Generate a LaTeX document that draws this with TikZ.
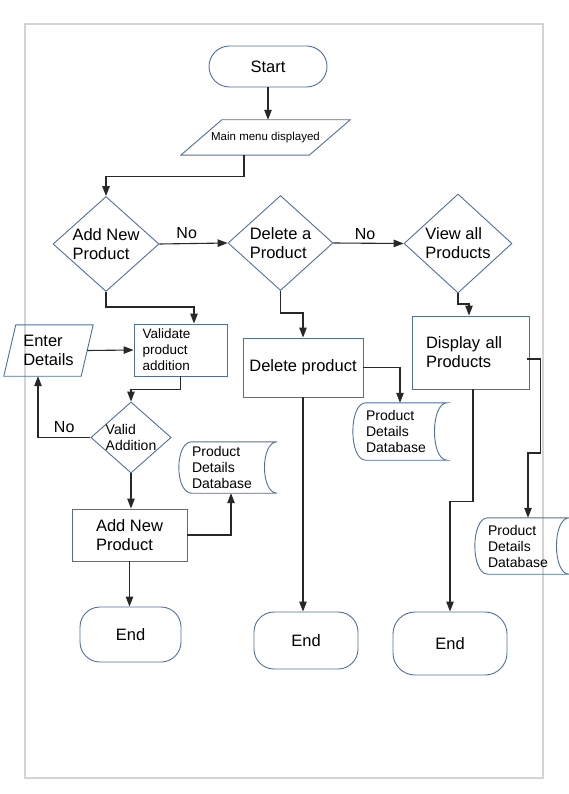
\documentclass[tikz,border=0pt]{standalone}
\usepackage{fontspec}
\setmainfont{Liberation Sans}
\usetikzlibrary{shapes.geometric,arrows.meta}
\definecolor{shpcol}{RGB}{80,110,160}
\definecolor{lncol}{RGB}{40,40,40}
\definecolor{frcol}{RGB}{212,212,212}
\tikzset{
  shp/.style={draw=shpcol, line width=0.9pt},
  base/.style={inner sep=0pt, font=\fontsize{16.5}{19}\selectfont, text=black},
  smallf/.style={font=\fontsize{14}{16}\selectfont},
  term/.style={base, shp, rectangle, rounded corners=20pt},
  dec/.style={base, shp, diamond, aspect=1.1, align=left},
  procbox/.style={base, shp, rectangle, align=left},
  iobox/.style={base, rectangle, align=left},
  dbbox/.style={base, smallf, rectangle, align=left, inner xsep=13pt, inner ysep=0pt},
  arr/.style={-{Triangle[length=10pt,width=7.5pt]}, line width=1.1pt, draw=lncol},
  lbl/.style={font=\fontsize{16}{19}\selectfont, text=black, inner sep=1pt}
}
\begin{document}
\begin{tikzpicture}[x=1pt,y=-1pt]
\useasboundingbox (0,0) rectangle (568,794);
\draw[frcol, line width=1.2pt] (25,24) rectangle (543,778);

% nodes
\node[term, rounded corners=20.5pt, minimum width=118pt, minimum height=41pt] (start) at (268,66.5) {Start};
\node[iobox, font=\fontsize{11.5}{13}\selectfont, minimum width=169pt, minimum height=35pt] (menu) at (265.5,137.5) {Main menu displayed};

\node[dec, minimum width=106pt, minimum height=95pt] (addq) at (106,244) {Add New\\Product};
\node[dec, minimum width=105pt, minimum height=95pt] (delq) at (280.5,243) {Delete a\\Product};
\node[dec, minimum width=108pt, minimum height=99pt] (viewq) at (458,243.5) {View all\\Products};

\node[procbox, font=\fontsize{13.5}{16}\selectfont, text width=76pt, minimum width=93pt, minimum height=52pt] (validate) at (180.5,350) {Validate\\product\\addition};
\node[iobox, minimum width=89pt, minimum height=51pt] (enter) at (48.5,350.5) {Enter\\Details};
\node[dec, smallf, aspect=1.13, minimum width=78pt, minimum height=69pt] (validq) at (131,437.5) {Valid\\Addition};
\node[procbox, minimum width=115pt, minimum height=52pt] (addbox) at (129.5,535) {Add New\\Product};
\node[dbbox, text width=72pt, minimum height=51pt] (db1) at (228,467.5) {Product\\Details\\Database};
\node[term, minimum width=101pt, minimum height=55pt] (end1) at (130.5,634.5) {End};

\node[procbox, minimum width=120pt, minimum height=59pt] (delbox) at (303,367.5) {Delete product};
\node[dbbox, text width=68pt, minimum height=57pt] (db2) at (400,431.5) {Product\\Details\\Database};
\node[term, minimum width=104pt, minimum height=57pt] (end2) at (306,640.5) {End};

\node[procbox, text width=89pt, minimum width=117pt, minimum height=73pt] (dispbox) at (470.5,352.5) {Display all\\Products};
\node[dbbox, text width=68pt, minimum height=56pt] (db3) at (522,546) {Product\\Details\\Database};
\node[term, rounded corners=22pt, minimum width=114pt, minimum height=63pt] (end3) at (450,643.5) {End};

% outlines of parallelograms
\draw[shp] ([xshift=41pt]menu.north west) -- (menu.north east) -- ([xshift=-41pt]menu.south east) -- (menu.south west) -- cycle;
\draw[shp] ([xshift=12pt]enter.north west) -- (enter.north east) -- ([xshift=-12pt]enter.south east) -- (enter.south west) -- cycle;

% outlines of stored data
\foreach \n in {db1,db2,db3}{
  \draw[shp] ([xshift=13pt]\n.north west) -- (\n.north east)
    .. controls ([xshift=-17pt]\n.north east) and ([xshift=-17pt]\n.south east) .. (\n.south east)
    -- ([xshift=13pt]\n.south west)
    .. controls ([xshift=-4.3pt]\n.south west) and ([xshift=-4.3pt]\n.north west) .. ([xshift=13pt]\n.north west);
}

% connectors
\draw[arr] (start.south) -- (start.south |- menu.north);
\draw[arr] ([xshift=-21.5pt]menu.south) -- ++(0,21) -| (addq.north);
\draw[arr] (addq.east) -- node[lbl, above=3pt, pos=0.4] {No} (delq.west);
\draw[arr] (delq.east) -- node[lbl, above=2pt, pos=0.45] {No} (viewq.west);

\draw[arr] (addq.south) -- ++(0,15) -| ([xshift=13.5pt]validate.north);
\draw[arr] ([xshift=-6pt]enter.east) -- (validate.west);
\draw[arr] (validate.south) -- ++(0,13) -| (validq.north);
\draw[arr] (validq.west) -| node[lbl, above=3pt, pos=0.25] {No} ([xshift=-10.5pt]enter.south);
\draw[arr] (validq.south) -- (validq.south |- addbox.north);
\draw[arr] (addbox.east) -| ([xshift=3pt]db1.south);
\draw[arr] (addbox.south) -- (addbox.south |- end1.north);

\draw[arr] (delq.south) -- ++(0,22) -| (delbox.north);
\draw[arr] (delbox.east) -| (db2.north);
\draw[arr] (delbox.south) -- (delbox.south |- end2.north);

\draw[arr] (viewq.south) -- ++(0,10.5) -| ([xshift=-1.5pt]dispbox.north);
\draw[arr] ([xshift=-2pt,yshift=-6.5pt]dispbox.east) -- ++(13,0) -- ++(0,94) -| ([xshift=6pt]db3.north);
\draw[arr] ([xshift=2.5pt]dispbox.south) -- ++(0,112) -| (end3.north);
\end{tikzpicture}
\end{document}
